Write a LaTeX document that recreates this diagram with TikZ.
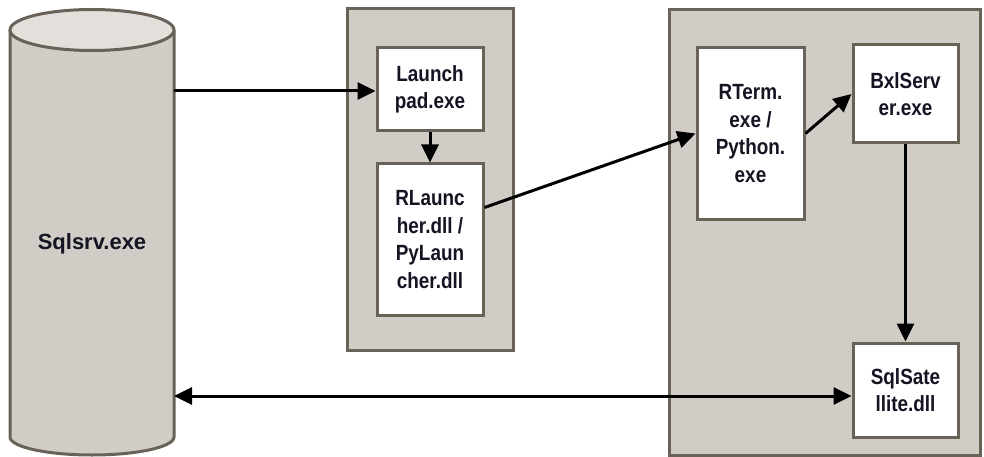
\documentclass[tikz,border=0pt]{standalone}
\usepackage{fontspec}
\setmainfont{Liberation Sans}
\newfontfamily\narrowfont[FakeStretch=0.86]{Liberation Sans}
\usepackage{xcolor}
\usetikzlibrary{arrows.meta}

\definecolor{edgegray}{RGB}{104,98,88}
\definecolor{panelgray}{RGB}{209,204,198}
\definecolor{topgray}{RGB}{227,224,220}
\definecolor{textnavy}{RGB}{20,20,35}

\begin{document}
\begin{tikzpicture}[x=1pt, y=-1pt,
    panel/.style={draw=edgegray, fill=panelgray, line width=3pt},
    box/.style={draw=edgegray, fill=white, line width=3pt, align=center, inner sep=0pt,
        font=\narrowfont\fontsize{22}{27.5}\selectfont\bfseries, text=textnavy},
    flow/.style={line width=3pt, -{Triangle[length=18pt, width=17pt]}},
    both/.style={line width=3pt, {Triangle[length=18pt, width=17pt]}-{Triangle[length=18pt, width=17pt]}}]
    \useasboundingbox (0, 0) rectangle (984, 457);

    % database cylinder
    \filldraw[panel] (10, 30) -- (10, 437) arc[start angle=180, end angle=0, x radius=82, y radius=18] -- (174, 30);
    \filldraw[draw=edgegray, fill=topgray, line width=3pt] (92, 30) ellipse[x radius=82, y radius=20.5];
    \node[font=\fontsize{22}{27.5}\selectfont\bfseries, text=textnavy] (sql) at (92, 244) {Sqlsrv.exe};
    \coordinate (sqlA) at (174, 91);
    \coordinate (sqlB) at (174, 396);

    % panels
    \draw[panel] (347, 9) rectangle (513, 350);
    \draw[panel] (669, 10) rectangle (980, 455);

    \node[box, minimum width=106pt, minimum height=83pt] (launch) at (430, 89.5) {Launch\\pad.exe};
    \node[box, minimum width=106pt, minimum height=151pt] (rlaunch) at (430, 239.5) {RLaunc\\her.dll /\\PyLaun\\cher.dll};
    \node[box, minimum width=107pt, minimum height=171pt] (rterm) at (750.5, 133.5) {RTerm.\\exe /\\Python.\\exe};
    \node[box, minimum width=105pt, minimum height=98pt] (bxl) at (905.5, 94) {BxlServ\\er.exe};
    \node[box, minimum width=105pt, minimum height=94pt] (sat) at (905.5, 390) {SqlSate\\llite.dll};

    % connectors
    \draw[flow] (sqlA) -- (sqlA -| launch.west);
    \draw[flow] (launch.south) -- (rlaunch.north);
    \draw[flow] ([yshift=32pt]rlaunch.east) -- (rterm.west);
    \draw[flow] (rterm.east) -- (bxl.west);
    \draw[flow] (bxl.south) -- (sat.north);
    \draw[both] (sqlB) -- (sqlB -| sat.west);

\end{tikzpicture}
\end{document}
